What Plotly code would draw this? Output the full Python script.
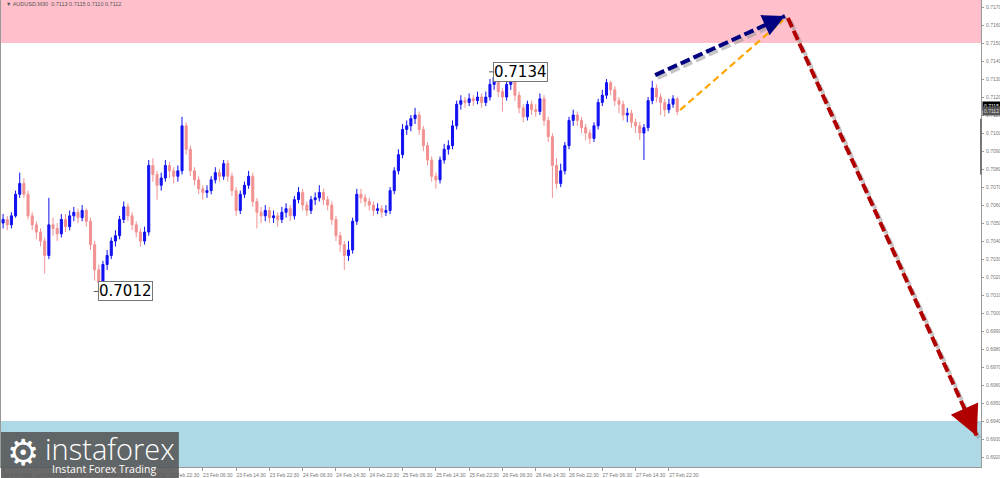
import plotly.graph_objects as go

# ---------------- data ----------------
first_open = 0.7050
closes = [
    0.7052, 0.7049, 0.7054, 0.7066, 0.7072, 0.7066, 0.7054, 0.7049, 0.7045, 0.7040,
    0.7032, 0.7049, 0.7047, 0.7044, 0.7052, 0.7048, 0.7054, 0.7056, 0.7053, 0.7057,
    0.7051, 0.7038, 0.7024, 0.7017, 0.7027, 0.7032, 0.7040, 0.7043, 0.7052, 0.7059,
    0.7054, 0.7049, 0.7045, 0.7040, 0.7045, 0.7082, 0.7077, 0.7071, 0.7075, 0.7082,
    0.7079, 0.7076, 0.7079, 0.7104, 0.7091, 0.7079, 0.7074, 0.7069, 0.7067, 0.7068,
    0.7074, 0.7078, 0.7076, 0.7083, 0.7076, 0.7068, 0.7057, 0.7066, 0.7071, 0.7076,
    0.7062, 0.7056, 0.7054, 0.7057, 0.7053, 0.7054, 0.7052, 0.7056, 0.7058, 0.7054,
    0.7063, 0.7067, 0.7060, 0.7057, 0.7063, 0.7064, 0.7067, 0.7063, 0.7060, 0.7052,
    0.7043, 0.7038, 0.7032, 0.7035, 0.7051, 0.7066, 0.7064, 0.7062, 0.7060, 0.7057,
    0.7058, 0.7056, 0.7057, 0.7068, 0.7079, 0.7088, 0.7102, 0.7104, 0.7108, 0.7110,
    0.7102, 0.7093, 0.7085, 0.7076, 0.7074, 0.7085, 0.7091, 0.7093, 0.7104, 0.7116,
    0.7118, 0.7117, 0.7119, 0.7118, 0.7120, 0.7117, 0.7120, 0.7127, 0.7131, 0.7123,
    0.7120, 0.7127, 0.7129, 0.7121, 0.7114, 0.7109, 0.7116, 0.7113, 0.7112, 0.7119,
    0.7107, 0.7098, 0.7082, 0.7072, 0.7079, 0.7093, 0.7107, 0.7110, 0.7107, 0.7103,
    0.7100, 0.7097, 0.7104, 0.7117, 0.7121, 0.7128, 0.7124, 0.7118, 0.7116, 0.7110,
    0.7111, 0.7106, 0.7104, 0.7100, 0.7103, 0.7118, 0.7125, 0.7120, 0.7117, 0.7113,
    0.7116, 0.7119, 0.7112,
]
highs = [
    0.7055, 0.7054, 0.7056, 0.7068, 0.7078, 0.7075, 0.7068, 0.7056, 0.7051, 0.7047,
    0.7042, 0.7064, 0.7053, 0.7050, 0.7055, 0.7055, 0.7057, 0.7059, 0.7058, 0.7060,
    0.7058, 0.7053, 0.7040, 0.7027, 0.7029, 0.7035, 0.7042, 0.7046, 0.7054, 0.7062,
    0.7061, 0.7056, 0.7051, 0.7047, 0.7048, 0.7085, 0.7086, 0.7079, 0.7078, 0.7085,
    0.7084, 0.7081, 0.7082, 0.7109, 0.7106, 0.7093, 0.7081, 0.7076, 0.7071, 0.7071,
    0.7076, 0.7081, 0.7080, 0.7085, 0.7085, 0.7078, 0.7070, 0.7068, 0.7073, 0.7079,
    0.7078, 0.7064, 0.7059, 0.7060, 0.7059, 0.7057, 0.7056, 0.7059, 0.7061, 0.7060,
    0.7065, 0.7070, 0.7069, 0.7062, 0.7065, 0.7067, 0.7071, 0.7069, 0.7065, 0.7062,
    0.7054, 0.7045, 0.7040, 0.7040, 0.7053, 0.7069, 0.7069, 0.7066, 0.7064, 0.7062,
    0.7061, 0.7060, 0.7060, 0.7070, 0.7081, 0.7091, 0.7105, 0.7107, 0.7110, 0.7114,
    0.7112, 0.7104, 0.7095, 0.7087, 0.7078, 0.7087, 0.7094, 0.7096, 0.7107, 0.7118,
    0.7121, 0.7120, 0.7122, 0.7121, 0.7123, 0.7122, 0.7123, 0.7130, 0.7134, 0.7132,
    0.7125, 0.7130, 0.7133, 0.7131, 0.7123, 0.7116, 0.7118, 0.7118, 0.7116, 0.7122,
    0.7121, 0.7109, 0.7100, 0.7086, 0.7083, 0.7095, 0.7109, 0.7113, 0.7112, 0.7109,
    0.7105, 0.7102, 0.7106, 0.7119, 0.7124, 0.7130, 0.7129, 0.7126, 0.7120, 0.7118,
    0.7114, 0.7113, 0.7108, 0.7106, 0.7105, 0.7120, 0.7129, 0.7127, 0.7122, 0.7119,
    0.7119, 0.7121, 0.7120,
]
lows = [
    0.7047, 0.7046, 0.7047, 0.7053, 0.7064, 0.7064, 0.7052, 0.7046, 0.7041, 0.7037,
    0.7022, 0.7030, 0.7043, 0.7040, 0.7042, 0.7045, 0.7046, 0.7051, 0.7050, 0.7051,
    0.7048, 0.7035, 0.7018, 0.7012, 0.7015, 0.7024, 0.7030, 0.7037, 0.7041, 0.7050,
    0.7051, 0.7046, 0.7042, 0.7037, 0.7038, 0.7043, 0.7073, 0.7063, 0.7068, 0.7073,
    0.7075, 0.7072, 0.7073, 0.7077, 0.7088, 0.7076, 0.7071, 0.7066, 0.7063, 0.7064,
    0.7066, 0.7072, 0.7073, 0.7074, 0.7073, 0.7065, 0.7054, 0.7055, 0.7064, 0.7069,
    0.7059, 0.7047, 0.7050, 0.7051, 0.7050, 0.7050, 0.7048, 0.7050, 0.7053, 0.7051,
    0.7052, 0.7061, 0.7057, 0.7054, 0.7055, 0.7060, 0.7062, 0.7060, 0.7057, 0.7049,
    0.7040, 0.7034, 0.7024, 0.7029, 0.7033, 0.7049, 0.7061, 0.7059, 0.7057, 0.7054,
    0.7055, 0.7053, 0.7054, 0.7055, 0.7066, 0.7077, 0.7086, 0.7099, 0.7101, 0.7105,
    0.7099, 0.7090, 0.7082, 0.7073, 0.7069, 0.7072, 0.7083, 0.7088, 0.7091, 0.7102,
    0.7113, 0.7114, 0.7115, 0.7115, 0.7116, 0.7114, 0.7115, 0.7118, 0.7124, 0.7120,
    0.7112, 0.7118, 0.7124, 0.7118, 0.7111, 0.7106, 0.7107, 0.7110, 0.7109, 0.7110,
    0.7104, 0.7095, 0.7064, 0.7069, 0.7070, 0.7077, 0.7091, 0.7104, 0.7104, 0.7100,
    0.7096, 0.7094, 0.7095, 0.7102, 0.7115, 0.7119, 0.7121, 0.7115, 0.7111, 0.7107,
    0.7106, 0.7103, 0.7100, 0.7096, 0.7085, 0.7101, 0.7116, 0.7117, 0.7110, 0.7109,
    0.7111, 0.7114, 0.7110,
]
opens = [first_open] + closes[:-1]
bars = list(range(len(closes)))

tick_labels = [
    "21 Feb 2020", "21 Feb 14:30", "21 Feb 22:30", "22 Feb 06:30", "22 Feb 14:30",
    "22 Feb 22:30", "23 Feb 06:30", "23 Feb 14:30", "23 Feb 22:30", "24 Feb 06:30",
    "24 Feb 14:30", "24 Feb 22:30", "25 Feb 06:30", "25 Feb 14:30", "25 Feb 22:30",
    "26 Feb 06:30", "26 Feb 14:30", "26 Feb 22:30", "27 Feb 06:30", "27 Feb 14:30",
    "27 Feb 22:30",
]
bars_per_label = 8
price_ticks = [round(0.6920 + 0.001 * k, 4) for k in range(26)]

resistance_zone = [0.7150, 0.71739]
support_zone = [0.69145, 0.6940]

extreme_high = (118, 0.7134)
extreme_low = (23, 0.7012)

# forecast paths (bar index, price)
wave_up_main = [(156.7, 0.71322), (187.9, 0.71650)]
wave_up_alt = [(162.7, 0.71128), (187.5, 0.71628)]
wave_down = [(188.6, 0.71639), (234.0, 0.69317)]

header_text = "\u25bc AUDUSD,M30  0.7113 0.7115 0.7110 0.7112"
bid_label = 0.7115
last_label = 0.7112

# ---------------- figure ----------------
fig = go.Figure()
fig.add_trace(go.Candlestick(
    x=bars, open=opens, high=highs, low=lows, close=closes,
    increasing=dict(line=dict(color="#1010F0", width=1), fillcolor="#1010F0"),
    decreasing=dict(line=dict(color="#F29191", width=1), fillcolor="#F29191"),
    whiskerwidth=0, showlegend=False, hoverinfo="skip",
))

shapes = []
shapes.append(dict(type="rect", xref="paper", yref="y", x0=0, x1=1,
                   y0=resistance_zone[0], y1=resistance_zone[1],
                   fillcolor="#FFC0CB", line=dict(width=0), layer="below"))
shapes.append(dict(type="rect", xref="paper", yref="y", x0=0, x1=1,
                   y0=support_zone[0], y1=support_zone[1],
                   fillcolor="#ADD8E6", line=dict(width=0), layer="below"))


def dashed(path, color, width, dash, shadow=True):
    (x0, y0), (x1, y1) = path
    out = []
    if shadow:
        out.append(dict(type="line", xref="x", yref="y", x0=x0 + 0.6, y0=y0 - 0.00016,
                        x1=x1 + 0.6, y1=y1 - 0.00016,
                        line=dict(color="rgba(150,150,150,0.55)", width=width, dash=dash)))
    out.append(dict(type="line", xref="x", yref="y", x0=x0, y0=y0, x1=x1, y1=y1,
                    line=dict(color=color, width=width, dash=dash)))
    return out


shapes += dashed(wave_up_main, "#000080", 4, "10px,4px")
shapes += dashed(wave_up_alt, "#FFA500", 2.2, "7px,4px", shadow=False)
shapes += dashed(wave_down, "#B00000", 4, "10px,4px")

# small marks next to the extreme labels
for (bx, by) in (extreme_high, extreme_low):
    shapes.append(dict(type="line", xref="x", yref="y", x0=bx - 1.2, x1=bx, y0=by, y1=by,
                       line=dict(color="#555", width=1)))

# logo background
shapes.append(dict(type="rect", xref="paper", yref="paper", x0=0, x1=0.1815,
                   y0=-0.03, y1=0.075, fillcolor="rgba(85,85,85,0.88)",
                   line=dict(width=0), layer="above"))
# right-axis marker
shapes.append(dict(type="line", xref="paper", yref="y", x0=1, x1=1, y0=0.7108, y1=0.7077,
                   line=dict(color="#777", width=2)))

annotations = []


def arrow_head(path, color, width, size, frac):
    (x0, y0), (x1, y1) = path
    return dict(x=x1, y=y1, ax=x1 - (x1 - x0) * frac, ay=y1 - (y1 - y0) * frac,
                xref="x", yref="y", axref="x", ayref="y", text="", showarrow=True,
                arrowhead=2, arrowsize=size, arrowwidth=width, arrowcolor=color)


annotations.append(arrow_head(wave_up_main, "#000080", 4, 1.1, 0.12))
annotations.append(arrow_head(wave_down, "#B00000", 4, 1.5, 0.05))

for (bx, by) in (extreme_high, extreme_low):
    annotations.append(dict(x=bx, y=by, xref="x", yref="y", text=f"{by:.4f}",
                            showarrow=False, xanchor="left", yanchor="middle", xshift=-1,
                            font=dict(family="DejaVu Sans", size=15, color="black"),
                            bgcolor="white", bordercolor="#777", borderwidth=1, borderpad=0))

annotations.append(dict(x=0.003, y=0.991, xref="paper", yref="paper", text=header_text,
                        showarrow=False, xanchor="left", yanchor="middle",
                        font=dict(family="Liberation Sans", size=5.5, color="#555")))

annotations.append(dict(x=1, y=bid_label, xref="paper", yref="y", text=f"{bid_label:.4f}",
                        showarrow=False, xanchor="left", yanchor="middle", xshift=1,
                        font=dict(family="Liberation Sans", size=5, color="white"),
                        bgcolor="black", borderpad=1))
annotations.append(dict(x=1, y=last_label, xref="paper", yref="y", text=f"{last_label:.4f}",
                        showarrow=False, xanchor="left", yanchor="middle", xshift=1,
                        font=dict(family="Liberation Sans", size=5, color="#ddd"),
                        bgcolor="#555", borderpad=1))

# logo texts
annotations.append(dict(x=0.004, y=0.03, xref="paper", yref="paper", text="\u2699",
                        showarrow=False, xanchor="left", yanchor="middle",
                        font=dict(family="DejaVu Sans", size=36, color="white")))
annotations.append(dict(x=0.043, y=0.04, xref="paper", yref="paper", text="instaforex",
                        showarrow=False, xanchor="left", yanchor="middle",
                        font=dict(family="Open Sans", size=29, color="white", weight=300)))
annotations.append(dict(x=0.05, y=-0.005, xref="paper", yref="paper", text="Instant Forex Trading",
                        showarrow=False, xanchor="left", yanchor="middle",
                        font=dict(family="Open Sans", size=10.5, color="white")))

fig.update_layout(
    width=1000, height=478,
    margin=dict(l=1, r=19, t=0, b=11, autoexpand=False),
    paper_bgcolor="white", plot_bgcolor="white",
    shapes=shapes, annotations=annotations,
    showlegend=False,
    xaxis=dict(
        range=[-0.5, 235], rangeslider=dict(visible=False),
        tickmode="array",
        tickvals=[i * bars_per_label for i in range(len(tick_labels))],
        ticktext=tick_labels, tickangle=0, automargin=False,
        ticks="outside", ticklen=3, tickcolor="#999",
        tickfont=dict(family="Liberation Sans", size=5, color="#777"),
        ticklabelshift=15, ticklabelstandoff=0,
        showgrid=False, zeroline=False,
        showline=True, linecolor="#999", linewidth=1, mirror=True,
    ),
    yaxis=dict(
        range=[support_zone[0], resistance_zone[1]], side="right", automargin=False,
        tickmode="array", tickvals=price_ticks,
        ticktext=[f"{v:.4f}" for v in price_ticks],
        ticks="outside", ticklen=2, tickcolor="#999",
        tickfont=dict(family="Liberation Sans", size=5, color="#777"),
        ticklabelstandoff=1,
        showgrid=False, zeroline=False,
        showline=True, linecolor="#999", linewidth=1, mirror=True,
    ),
)

fig.write_html("out.html", config={"displayModeBar": False},
               post_script="document.body.style.margin='0';document.body.style.overflow='hidden';")
